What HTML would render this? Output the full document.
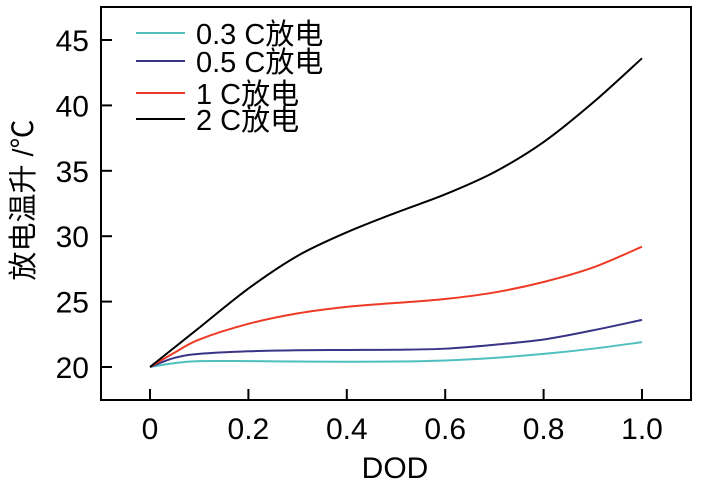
<!DOCTYPE html>
<html><head><meta charset="utf-8"><style>
body{margin:0;background:#fff;}
svg text{font-family:"Liberation Sans","Noto Sans CJK SC",sans-serif;fill:#000;}
</style></head><body>
<svg width="701" height="484">
<rect x="101" y="7" width="590" height="393" fill="none" stroke="#000" stroke-width="2"/>
<g id="axes"></g>
<g id="series"></g>
<g id="legend"></g>
<text x="395" y="478" font-size="30" text-anchor="middle">DOD</text>
<text transform="translate(33,200) rotate(-90)" font-size="29" text-anchor="middle">放电温升 /℃</text>
</svg>
<script>
const xTicks=[0,0.2,0.4,0.6,0.8,1.0];
const xTickLabels=["0","0.2","0.4","0.6","0.8","1.0"];
const yTicks=[20,25,30,35,40,45];
const xs=[0,0.05,0.1,0.2,0.3,0.4,0.5,0.6,0.7,0.8,0.9,1.0];
const s03=[20,20.3,20.45,20.45,20.42,20.4,20.42,20.5,20.7,21.0,21.4,21.9];
const s05=[20,20.7,21.0,21.2,21.28,21.3,21.32,21.4,21.7,22.1,22.8,23.6];
const s1=[20,21.1,22.1,23.3,24.1,24.6,24.9,25.2,25.7,26.5,27.6,29.2];
const s2=[20,21.5,23.0,26.0,28.5,30.3,31.8,33.2,34.9,37.2,40.2,43.6];
const names=["0.3 C放电","0.5 C放电","1 C放电","2 C放电"];
const colors=["#4fbfbf","#3a3487","#ee3a24","#000000"];
const seriesData=[s03,s05,s1,s2];
const X=v=>150+v*492, Y=v=>367-(v-20)*13.08;
const NS="http://www.w3.org/2000/svg";
function mk(t,a,p){const e=document.createElementNS(NS,t);for(const k in a)e.setAttribute(k,a[k]);p.appendChild(e);return e;}
const ax=document.getElementById('axes');
xTicks.forEach((v,i)=>{
 const t=mk('line',{x1:X(v),x2:X(v),y1:400,y2:389,stroke:'#000','stroke-width':2},ax);
 
 
 const l=mk('text',{x:X(v),y:439,'font-size':30,'text-anchor':'middle'},ax);l.textContent=xTickLabels[i];
 
 
});
yTicks.forEach(v=>{
 const t=mk('line',{x1:101,x2:112,y1:Y(v),y2:Y(v),stroke:'#000','stroke-width':2},ax);
 
 
 const l=mk('text',{x:89,y:Y(v)+11,'font-size':30,'text-anchor':'end'},ax);l.textContent=v;
 
 
});
function path(ys){
 const p=xs.map((x,i)=>[X(x),Y(ys[i])]);
 let d='M'+p[0][0]+','+p[0][1];
 for(let i=0;i<p.length-1;i++){
  const p0=p[Math.max(0,i-1)],p1=p[i],p2=p[i+1],p3=p[Math.min(p.length-1,i+2)];
  const c1=[p1[0]+(p2[0]-p0[0])/6,p1[1]+(p2[1]-p0[1])/6],c2=[p2[0]-(p3[0]-p1[0])/6,p2[1]-(p3[1]-p1[1])/6];
  d+=`C${c1[0]},${c1[1]} ${c2[0]},${c2[1]} ${p2[0]},${p2[1]}`;
 }
 return d;
}
const sg=document.getElementById('series'),lg=document.getElementById('legend');
const ly=[33,61,93,119];
seriesData.forEach((ys,i)=>{
 const e=mk('path',{d:path(ys),fill:'none',stroke:colors[i],'stroke-width':2},sg);
 
 
 const l=mk('line',{x1:136,x2:185,y1:ly[i],y2:ly[i],stroke:colors[i],'stroke-width':2},lg);
 
 
 const t=mk('text',{x:196,y:ly[i]+11,'font-size':29},lg);t.textContent=names[i];
 
 
});
</script>
</body></html>
